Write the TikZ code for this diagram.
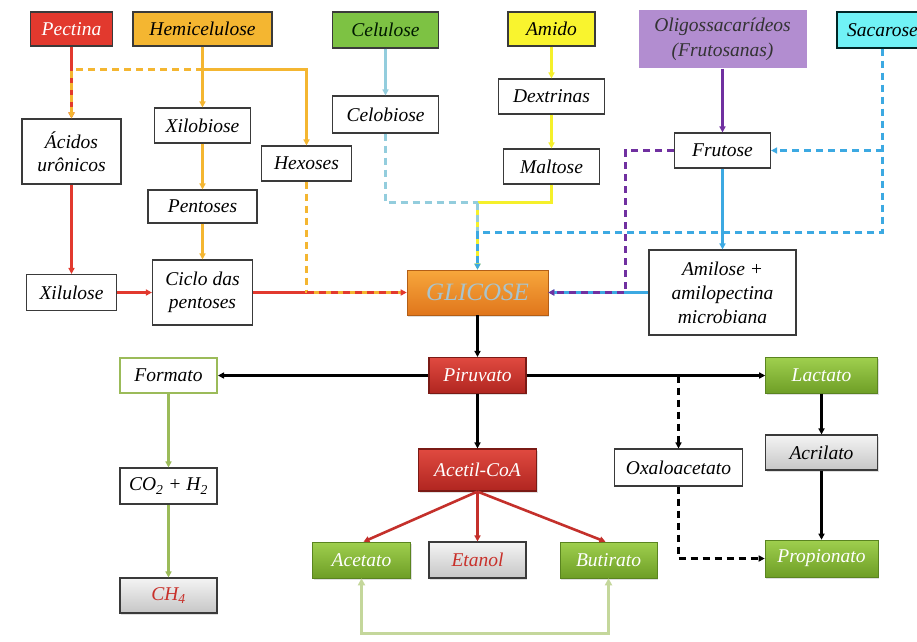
\documentclass[tikz,border=0pt]{standalone}
\usepackage{fontspec}
\setmainfont{Liberation Serif}
\usetikzlibrary{arrows.meta,shadows}
\definecolor{pectfill}{HTML}{E2392E}
\definecolor{hemifill}{HTML}{F4B631}
\definecolor{celufill}{HTML}{7DC243}
\definecolor{amidofill}{HTML}{F9F42E}
\definecolor{oligofill}{HTML}{B28DD0}
\definecolor{sacfill}{HTML}{70F2F6}
\definecolor{boxgray}{HTML}{3A3A3A}
\definecolor{redtop}{HTML}{E04A40}
\definecolor{redbot}{HTML}{B02520}
\definecolor{reddark}{HTML}{7A1A15}
\definecolor{greentop}{HTML}{9FCF4E}
\definecolor{greenbot}{HTML}{6E9E26}
\definecolor{greendark}{HTML}{5A8420}
\definecolor{graytop}{HTML}{F4F4F4}
\definecolor{graybot}{HTML}{C6C6C6}
\definecolor{orgtop}{HTML}{F7A73C}
\definecolor{orgbot}{HTML}{E0761C}
\definecolor{glictext}{HTML}{A8C4CF}
\definecolor{lnred}{HTML}{E2392E}
\definecolor{lnorange}{HTML}{F4B631}
\definecolor{lnyellow}{HTML}{F5F02A}
\definecolor{lnlblue}{HTML}{93CDDD}
\definecolor{lnblue}{HTML}{3CA9E2}
\definecolor{lnpurple}{HTML}{7030A0}
\definecolor{lnacred}{HTML}{C4302B}
\definecolor{lngreen}{HTML}{9BBB59}
\definecolor{lnlgreen}{HTML}{C4D79B}
\definecolor{redtext}{HTML}{C8302A}
\newcommand{\myfont}{\fontsize{19.5}{23}\selectfont\itshape}
\tikzset{
  base/.style={font=\myfont, align=center, inner sep=0pt, line width=1.1pt},
  wbox/.style={base, draw=boxgray, fill=white},
  topbox/.style={base, draw=boxgray},
  redbox/.style={base, draw=reddark, top color=redtop, bottom color=redbot, text=white,
     drop shadow={opacity=0.25, shadow xshift=1pt, shadow yshift=-1.5pt}},
  greenbox/.style={base, draw=greendark, line width=0.6pt, top color=greentop, bottom color=greenbot, text=white,
     drop shadow={opacity=0.25, shadow xshift=1pt, shadow yshift=-1.5pt}},
  graybox/.style={base, draw=boxgray, top color=graytop, bottom color=graybot,
     drop shadow={opacity=0.25, shadow xshift=1pt, shadow yshift=-1.5pt}},
  arr/.style={-{Triangle[length=6pt,width=6pt]}},
  dsh/.style={dash pattern=on 7pt off 5pt},
  lred/.style={line width=2.8pt, draw=lnred},
  lorange/.style={line width=2.8pt, draw=lnorange},
  lyellow/.style={line width=2.8pt, draw=lnyellow},
  llblue/.style={line width=2.8pt, draw=lnlblue},
  lblue/.style={line width=2.8pt, draw=lnblue},
  lpurple/.style={line width=2.8pt, draw=lnpurple},
  lacred/.style={line width=2.6pt, draw=lnacred},
  lgreen/.style={line width=2.6pt, draw=lngreen},
  llgreen/.style={line width=3pt, draw=lnlgreen},
  lblack/.style={line width=2.1pt, draw=black},
}
\begin{document}
\begin{tikzpicture}[x=1pt,y=-1pt]
\useasboundingbox (0,0) rectangle (917,641);
\fill[white] (0,0) rectangle (917,641);
% top row
\node[topbox, fill=pectfill, text=white, minimum width=82pt, minimum height=34pt] (pect) at (71.5,29) {Pectina};
\node[topbox, fill=hemifill, minimum width=139pt, minimum height=34pt] (hemi) at (202.5,29) {Hemicelulose};
\node[topbox, fill=celufill, text={black!90!green}, minimum width=106pt, minimum height=36pt] (celu) at (385.5,30) {Celulose};
\node[topbox, fill=amidofill, minimum width=87pt, minimum height=34pt] (amido) at (551.5,29) {Amido};
\node[base, fill=oligofill, text={black!80}, minimum width=168pt, minimum height=58pt, font=\fontsize{19.5}{25}\selectfont\itshape] (oligo) at (722.5,39) {Oligossacarídeos\\(Frutosanas)};
\node[topbox, fill=sacfill, draw={black!70!teal}, minimum width=91pt, minimum height=36pt] (sacar) at (882.5,30) {Sacarose};
% second level
\node[wbox, minimum width=99pt, minimum height=65pt] (acid) at (71.5,151.5) {Ácidos\\urônicos};
\node[wbox, minimum width=96pt, minimum height=35pt] (xilob) at (202.5,125.5) {Xilobiose};
\node[wbox, minimum width=90pt, minimum height=35pt] (hexo) at (306.5,163.5) {Hexoses};
\node[wbox, minimum width=106pt, minimum height=37pt] (celob) at (385.5,114.5) {Celobiose};
\node[wbox, minimum width=106pt, minimum height=35pt] (dext) at (551.5,96.5) {Dextrinas};
\node[wbox, minimum width=96pt, minimum height=35pt] (malt) at (551.5,166.5) {Maltose};
\node[wbox, minimum width=96pt, minimum height=35pt] (frut) at (722.5,150.5) {Frutose};
\node[wbox, minimum width=109pt, minimum height=33pt] (pent) at (202.5,206.5) {Pentoses};
\node[wbox, minimum width=90pt, minimum height=36pt] (xilu) at (71.5,292.5) {Xilulose};
\node[wbox, minimum width=100pt, minimum height=65pt] (ciclo) at (202.5,292.5) {Ciclo das\\pentoses};
\node[base, draw={orgbot!80!black}, line width=0.6pt, top color=orgtop, bottom color=orgbot, text=glictext,
  font=\fontsize{25}{28}\selectfont\itshape, minimum width=141pt, minimum height=45pt,
  drop shadow={opacity=0.25, shadow xshift=1pt, shadow yshift=-1.5pt}] (glic) at (477.5,292.5) {GLICOSE};
\node[wbox, minimum width=147pt, minimum height=85pt, font=\fontsize{19.5}{24}\selectfont\itshape] (amil) at (722.5,292.5) {Amilose +\\amilopectina\\microbiana};
% lower part
\node[redbox, minimum width=97pt, minimum height=36pt] (piru) at (477.5,375.5) {Piruvato};
\node[wbox, draw=lngreen, line width=2pt, minimum width=97pt, minimum height=35pt] (form) at (168.5,375.5) {Formato};
\node[greenbox, minimum width=112pt, minimum height=36pt] (lact) at (821.5,375.5) {Lactato};
\node[redbox, minimum width=118pt, minimum height=42pt] (acet) at (477.5,470) {Acetil-CoA};
\node[wbox, minimum width=128pt, minimum height=37pt] (oxal) at (678.5,467.5) {Oxaloacetato};
\node[graybox, minimum width=112pt, minimum height=35pt] (acri) at (821.5,452.5) {Acrilato};
\node[wbox, minimum width=97pt, minimum height=36pt] (co2) at (168.5,486) {CO\textsubscript{2} + H\textsubscript{2}};
\node[greenbox, minimum width=98pt, minimum height=36pt] (aceta) at (361.5,560) {Acetato};
\node[graybox, text=redtext, minimum width=97pt, minimum height=36pt] (etan) at (477.5,560) {Etanol};
\node[greenbox, minimum width=97pt, minimum height=36pt] (buti) at (608.5,560) {Butirato};
\node[greenbox, minimum width=113pt, minimum height=37pt] (prop) at (821.5,558.5) {Propionato};
\node[graybox, text=redtext, minimum width=97pt, minimum height=35pt] (ch4) at (168.5,595.5) {CH\textsubscript{4}};
% junction coordinates
\coordinate (jO) at (202.5,69.5);
\coordinate (jH) at (306.5,292.5);
\coordinate (jG) at (477.5,202.5);
\coordinate (jS) at (882.5,232.5);
\coordinate (jS2) at (477.5,232.5);
\coordinate (jP) at (625.5,150.5);
\coordinate (jP2) at (625.5,292.5);
\coordinate (jX) at (678.5,375.5);
\coordinate (jA) at (361.5,633.5);
\coordinate (jB) at (608.5,633.5);
% pectina / hemicelulose
\draw[lred, arr] (pect.south) -- (acid.north);
\draw[lorange, arr] (hemi.south) -- (xilob.north);
\draw[lorange, arr] (jO) -| (hexo.north);
\draw[lorange, dsh, arr] (jO) -| (acid.north);
\draw[lorange, arr] (xilob.south) -- (pent.north);
\draw[lorange, arr] (pent.south) -- (ciclo.north);
\draw[lred, arr] (acid.south) -- (xilu.north);
\draw[lred, arr] (xilu.east) -- (ciclo.west);
\draw[lred] (ciclo.east) -- (jH);
\draw[lorange, dsh] (hexo.south) -- (jH);
\draw[lorange] (jH) -- ([xshift=-5pt]glic.west);
\draw[lred, dsh, arr] (jH) -- (glic.west);
% celulose / amido
\draw[llblue, arr] (celu.south) -- (celob.north);
\draw[lyellow, arr] (amido.south) -- (dext.north);
\draw[lyellow, arr] (dext.south) -- (malt.north);
\draw[lyellow] (malt.south) |- (jG);
\draw[lyellow, arr] (jG) -- (glic.north);
\draw[llblue, dsh] (celob.south) |- (jG);
\draw[llblue, dsh] (jG) -- (jS2);
% sacarose / frutose
\draw[lpurple, arr] (oligo.south) -- (frut.north);
\draw[lblue, arr] (frut.south) -- (amil.north);
\draw[lblue, dsh, arr] (sacar.south |- frut.east) -- (frut.east);
\draw[lblue, dsh, arr] (sacar.south) -- (jS) -- (jS2) -- (glic.north);
\draw[lblue, arr] (amil.west) -- (glic.east);
\draw[lpurple, dsh, arr] (frut.west) -- (jP) -- (jP2) -- (glic.east);
% piruvato
\draw[lblack, arr] (glic.south) -- (piru.north);
\draw[lblack, arr] (piru.west) -- (form.east);
\draw[lblack, arr] (piru.east) -- (lact.west);
\draw[line width=2.8pt, dsh] (piru.east) -- (jX);
\draw[lblack, dsh, arr] (jX) -- (oxal.north);
\draw[lblack, arr] (piru.south) -- (acet.north);
\draw[lblack, dsh, arr] (oxal.south) |- (prop.west);
\draw[lblack, arr] (lact.south) -- (acri.north);
\draw[lblack, arr] (acri.south) -- (prop.north);
% acetil-coa
\draw[lacred, arr] (acet.south) -- ([xshift=2pt]aceta.north);
\draw[lacred, arr] (acet.south) -- (etan.north);
\draw[lacred, arr] (acet.south) -- ([xshift=-3pt]buti.north);
% formato
\draw[lgreen, arr] (form.south) -- (co2.north);
\draw[lgreen, arr] (co2.south) -- (ch4.north);
% acetato - butirato
\draw[llgreen, {Triangle[length=7pt,width=7pt]}-{Triangle[length=7pt,width=7pt]}] (aceta.south) -- (jA) -- (jB) -- (buti.south);
\end{tikzpicture}
\end{document}
